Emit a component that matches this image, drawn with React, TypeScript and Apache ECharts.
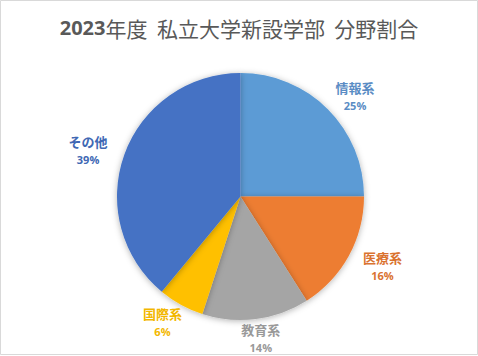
import React, { useEffect, useRef } from "react";
import * as echarts from "echarts";

const titleYear = "2023";
const titleRest = "年度  私立大学新設学部  分野割合";
const categories = ["情報系", "医療系", "教育系", "国際系", "その他"];
const values = [25, 16, 14, 6, 39];
const sliceColors = ["#5B9BD5", "#ED7D31", "#A5A5A5", "#FFC000", "#4472C4"];
const labelColors = ["#5A8CC4", "#DA7330", "#999999", "#F2B700", "#4068B4"];

const CX = 240.5;
const CY = 196.5;
const R = 123.5;
const LABEL_RX = 162;
const LABEL_RY_UP = 146;
const LABEL_RY_DOWN = 140;

export default function App() {
  const ref = useRef<HTMLDivElement>(null);
  useEffect(() => {
    if (!ref.current) return;
    const chart = echarts.init(ref.current, null, { renderer: "svg" });
    const total = values.reduce((a, b) => a + b, 0);
    const midAngles: number[] = [];
    let acc = 0;
    values.forEach((v) => {
      midAngles.push(((acc + v / 2) / total) * Math.PI * 2);
      acc += v;
    });
    chart.setOption({
      animation: false,
      backgroundColor: "#ffffff",
      title: {
        text: "{y|" + titleYear + "}{r|" + titleRest + "}",
        left: "center",
        top: 12,
        textStyle: {
          rich: {
            y: { fontFamily: "'Open Sans', 'Noto Sans CJK JP', sans-serif", fontSize: 20, fontWeight: "bold", color: "#595959" },
            r: { fontFamily: "'Noto Sans CJK JP', sans-serif", fontSize: 21, fontWeight: "normal", color: "#595959" },
          },
        },
      },
      graphic: [
        {
          type: "rect",
          shape: { x: 0.5, y: 0.5, width: 477, height: 354 },
          style: { fill: "none", stroke: "#D9D9D9", lineWidth: 1 },
          silent: true,
        },
      ],
      series: [
        {
          type: "pie",
          center: [CX, CY],
          radius: R,
          startAngle: 90,
          clockwise: true,
          data: categories.map((c, i) => ({
            name: c,
            value: values[i],
            itemStyle: { color: sliceColors[i] },
            label: {
              rich: {
                n: { fontSize: 13, fontWeight: "bold", color: labelColors[i], lineHeight: 24, fontFamily: "'Noto Sans CJK JP', sans-serif", align: "center" },
                p: { fontSize: 11, fontWeight: "bold", color: labelColors[i], lineHeight: 12, fontFamily: "'Open Sans', 'Noto Sans', sans-serif", align: "center" },
              },
            },
          })),
          itemStyle: {
            borderWidth: 0,
            shadowBlur: 6,
            shadowColor: "rgba(0,0,0,0.3)",
            shadowOffsetY: 1,
          },
          label: {
            show: true,
            position: "outside",
            formatter: "{n|{b}}\n{p|{d}%}",
          },
          labelLine: { show: false },
          labelLayout: (params: any) => {
            const a = midAngles[params.dataIndex];
            const c = Math.cos(a);
            const ry = c > 0 ? LABEL_RY_UP : LABEL_RY_DOWN;
            return {
              x: CX + LABEL_RX * Math.sin(a),
              y: CY - ry * c,
              align: "center",
              verticalAlign: "middle",
            };
          },
        },
      ],
    });
    return () => chart.dispose();
  }, []);
  return (
    <div
      ref={ref}
      style={{ position: "absolute", left: 0, top: 0, width: 478, height: 356 }}
    />
  );
}
